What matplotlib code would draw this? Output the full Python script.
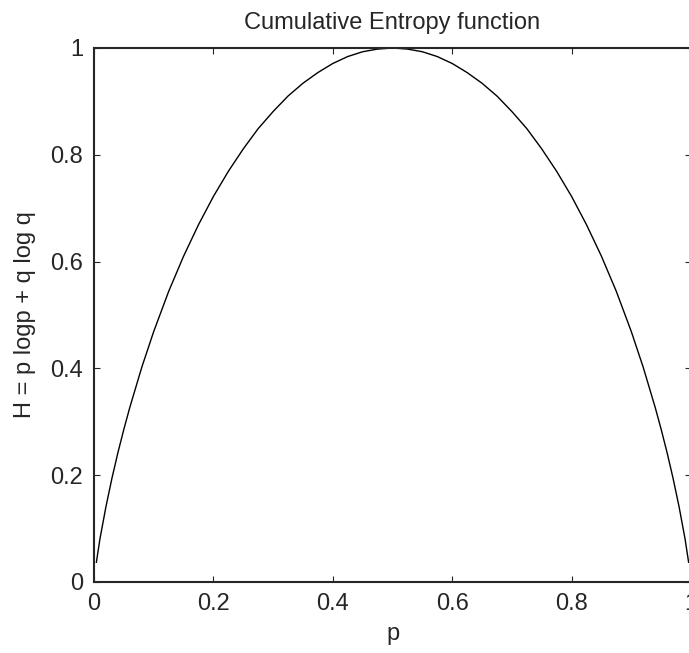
import matplotlib
matplotlib.use("Agg")
import matplotlib.pyplot as plt

# Values
p_vals = [0.004, 0.01, 0.02, 0.03, 0.04, 0.05, 0.06, 0.08, 0.1, 0.125, 0.15, 0.175,
          0.2, 0.225, 0.25, 0.275, 0.3, 0.325, 0.35, 0.375, 0.4, 0.425, 0.45, 0.475,
          0.5, 0.525, 0.55, 0.575, 0.6, 0.625, 0.65, 0.675, 0.7, 0.725, 0.75, 0.775,
          0.8, 0.825, 0.85, 0.875, 0.9, 0.92, 0.94, 0.95, 0.96, 0.97, 0.98, 0.99, 0.996]
h_vals = [0.037, 0.081, 0.141, 0.194, 0.242, 0.286, 0.327, 0.402, 0.469, 0.544, 0.610, 0.669,
          0.722, 0.769, 0.811, 0.849, 0.881, 0.910, 0.934, 0.954, 0.971, 0.984, 0.993, 0.998,
          1.000, 0.998, 0.993, 0.984, 0.971, 0.954, 0.934, 0.910, 0.881, 0.849, 0.811, 0.769,
          0.722, 0.669, 0.610, 0.544, 0.469, 0.402, 0.327, 0.286, 0.242, 0.194, 0.141, 0.081, 0.037]

x_ticks = [0, 0.2, 0.4, 0.6, 0.8, 1]
x_tick_labels = ["0", "0.2", "0.4", "0.6", "0.8", "1"]
y_ticks = [0, 0.2, 0.4, 0.6, 0.8, 1]
y_tick_labels = ["0", "0.2", "0.4", "0.6", "0.8", "1"]

title = "Cumulative Entropy function"
xlabel = "p"
ylabel = "H = p logp + q log q"

plt.rcParams['font.family'] = ['Liberation Sans', 'DejaVu Sans']
ink = '#262626'

fig = plt.figure(figsize=(6.89, 6.53), dpi=100)
ax = fig.add_axes([94 / 689, (653 - 582) / 653, (691 - 94) / 689, (582 - 48) / 653])

ax.plot(p_vals, h_vals, color='black', lw=1.0)

ax.set_xlim(0, 1)
ax.set_ylim(0, 1)
ax.set_xticks(x_ticks)
ax.set_xticklabels(x_tick_labels)
ax.set_yticks(y_ticks)
ax.set_yticklabels(y_tick_labels)
ax.tick_params(direction='in', length=4.3, width=0.8, color=ink, labelcolor=ink,
               labelsize=17, top=True, right=True, pad=8)
for s in ax.spines.values():
    s.set_color(ink)
    s.set_linewidth(1.5)

ax.set_title(title, fontsize=17, color=ink, pad=14)
ax.set_xlabel(xlabel, fontsize=17, color=ink, labelpad=6)
ax.set_ylabel(ylabel, fontsize=17, color=ink, labelpad=10)

fig.savefig("out.png", dpi=100)
